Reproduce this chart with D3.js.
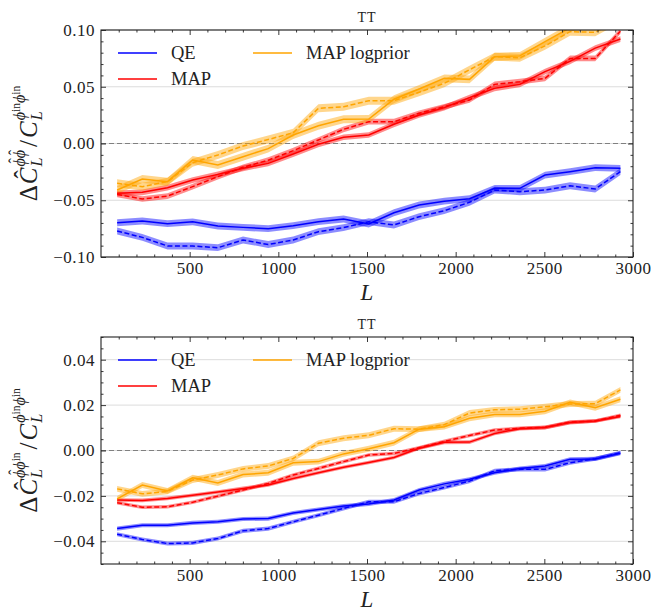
<!DOCTYPE html>
<html><head><meta charset="utf-8">
<script src="https://cdn.jsdelivr.net/npm/d3@7"></script>
<style>body{margin:0;background:#fff}svg{display:block}</style>
</head><body><svg id="c" width="653" height="612"></svg>
<script>
// ---- data ----
const Lbins = [91, 233, 375, 517, 659, 801, 943, 1084, 1226, 1368, 1510, 1652, 1794, 1936, 2078, 2220, 2362, 2504, 2645, 2787, 2929];
const methods = ["QE", "MAP", "MAP logprior"];
const colors = ["#0000ff", "#ff0000", "#ffa500"];

const topQE      = [-0.0698,-0.0683,-0.0706,-0.0690,-0.0727,-0.0739,-0.0750,-0.0724,-0.0689,-0.0665,-0.0709,-0.0610,-0.0542,-0.0508,-0.0486,-0.0395,-0.0395,-0.0278,-0.0248,-0.0213,-0.0219];
const topQEdash  = [-0.0771,-0.0827,-0.0903,-0.0903,-0.0918,-0.0850,-0.0890,-0.0850,-0.0777,-0.0741,-0.0689,-0.0718,-0.0645,-0.0592,-0.0518,-0.0410,-0.0425,-0.0410,-0.0372,-0.0401,-0.0248];
const topMAP     = [-0.0439,-0.0430,-0.0389,-0.0322,-0.0272,-0.0219,-0.0175,-0.0093,-0.0007,0.0055,0.0075,0.0169,0.0251,0.0316,0.0404,0.0486,0.0521,0.0633,0.0724,0.0840,0.0920];
const topMAPdash = [-0.0448,-0.0489,-0.0463,-0.0380,-0.0292,-0.0210,-0.0147,-0.0063,0.0031,0.0125,0.0192,0.0192,0.0266,0.0324,0.0383,0.0521,0.0545,0.0574,0.0750,0.0750,0.0990];
const topLog     = [-0.0410,-0.0313,-0.0336,-0.0145,-0.0190,-0.0116,-0.0045,0.0075,0.0157,0.0213,0.0216,0.0390,0.0480,0.0574,0.0565,0.0765,0.0772,0.0897,0.1020,0.1080,0.1150];
const topLogdash = [-0.0350,-0.0380,-0.0336,-0.0169,-0.0101,-0.0022,0.0035,0.0095,0.0310,0.0324,0.0377,0.0377,0.0452,0.0530,0.0650,0.0765,0.0755,0.0860,0.0985,0.0980,0.1100];

const botQE      = [-0.0344,-0.0329,-0.0329,-0.0319,-0.0314,-0.0302,-0.0300,-0.0275,-0.0260,-0.0245,-0.0236,-0.0218,-0.0174,-0.0147,-0.0127,-0.0098,-0.0079,-0.0068,-0.0039,-0.0037,-0.0012];
const botQEdash  = [-0.0369,-0.0392,-0.0410,-0.0407,-0.0388,-0.0354,-0.0344,-0.0314,-0.0285,-0.0255,-0.0226,-0.0226,-0.0189,-0.0163,-0.0135,-0.0089,-0.0083,-0.0083,-0.0054,-0.0036,-0.0010];
const botMAP     = [-0.0218,-0.0220,-0.0211,-0.0197,-0.0183,-0.0167,-0.0152,-0.0123,-0.0098,-0.0074,-0.0053,-0.0031,0.0010,0.0036,0.0037,0.0075,0.0096,0.0101,0.0123,0.0130,0.0150];
const botMAPdash = [-0.0230,-0.0250,-0.0248,-0.0228,-0.0201,-0.0174,-0.0145,-0.0108,-0.0079,-0.0049,-0.0020,-0.0013,0.0012,0.0040,0.0066,0.0090,0.0098,0.0102,0.0125,0.0130,0.0155];
const botLog     = [-0.0213,-0.0152,-0.0178,-0.0120,-0.0143,-0.0106,-0.0098,-0.0054,-0.0049,-0.0015,0.0008,0.0034,0.0094,0.0105,0.0142,0.0159,0.0159,0.0173,0.0212,0.0188,0.0226];
const botLogdash = [-0.0169,-0.0191,-0.0180,-0.0130,-0.0108,-0.0081,-0.0068,-0.0035,0.0032,0.0054,0.0067,0.0096,0.0094,0.0114,0.0165,0.0179,0.0182,0.0193,0.0205,0.0206,0.0267];

const topBand = [0.0030, 0.0025, 0.0035];
const botBand = [0.0009, 0.0008, 0.0013];

const xTicks = [500, 1000, 1500, 2000, 2500, 3000];
const topYTicks = [-0.10, -0.05, 0.00, 0.05, 0.10];
const botYTicks = [-0.04, -0.02, 0.00, 0.02, 0.04];
const panelTitle = "TT";

// ---- drawing ----
const svg = d3.select("#c");
const FONT = "'Liberation Serif', 'Times New Roman', serif";
const fmt = d => (d < 0 ? "\u2212" : "") + Math.abs(d).toFixed(2);

function drawPanel(cfg) {
  const {top, bottom, ydom, yTicks, yMinorStep, series, band, labelKind, id} = cfg;
  const left = 101, right = 633;
  const x = d3.scaleLinear().domain([0, 3000]).range([left, right]);
  const y = d3.scaleLinear().domain(ydom).range([bottom, top]);
  const g = svg.append("g");

  g.append("clipPath").attr("id", "clip" + id).append("rect")
    .attr("x", left).attr("y", top).attr("width", right - left).attr("height", bottom - top);

  // grid
  g.append("g").selectAll("line").data(yTicks).join("line")
    .attr("x1", left).attr("x2", right).attr("y1", d => y(d)).attr("y2", d => y(d))
    .attr("stroke", "#dcdcdc").attr("stroke-width", 1);
  // zero line
  g.append("line").attr("x1", left).attr("x2", right).attr("y1", y(0)).attr("y2", y(0))
    .attr("stroke", "#808080").attr("stroke-width", 1).attr("stroke-dasharray", "5,3");

  const plot = g.append("g").attr("clip-path", `url(#clip${id})`);
  series.forEach((pair, i) => {
    pair.forEach((vals, j) => {
      const area = d3.area().x((d, k) => x(Lbins[k])).y0(d => y(d - band[i])).y1(d => y(d + band[i]));
      plot.append("path").attr("d", area(vals)).attr("fill", colors[i]).attr("fill-opacity", 0.45).attr("stroke", "none");
    });
  });
  series.forEach((pair, i) => {
    pair.forEach((vals, j) => {
      const line = d3.line().x((d, k) => x(Lbins[k])).y(d => y(d));
      plot.append("path").attr("d", line(vals)).attr("fill", "none").attr("stroke", colors[i])
        .attr("stroke-width", 1.5).attr("stroke-dasharray", j === 1 ? "5,2.5" : null);
    });
  });

  // axes (inward ticks)
  const xMinor = d3.range(100, 3000, 100).filter(v => v % 500 !== 0);
  const yMinor = d3.range(ydom[0], ydom[1] + 1e-9, yMinorStep).filter(v => !yTicks.some(t => Math.abs(t - v) < 1e-9));
  const axB = g.append("g").attr("transform", `translate(0,${bottom})`)
    .call(d3.axisBottom(x).tickValues(xTicks).tickSize(-5).tickPadding(5).tickFormat(d3.format("d")));
  const axBm = g.append("g").attr("transform", `translate(0,${bottom})`)
    .call(d3.axisBottom(x).tickValues(xMinor).tickSize(-2.5).tickFormat(""));
  const axT = g.append("g").attr("transform", `translate(0,${top})`)
    .call(d3.axisTop(x).tickValues(xTicks).tickSize(-5).tickFormat(""));
  const axTm = g.append("g").attr("transform", `translate(0,${top})`)
    .call(d3.axisTop(x).tickValues(xMinor).tickSize(-2.5).tickFormat(""));
  const axL = g.append("g").attr("transform", `translate(${left},0)`)
    .call(d3.axisLeft(y).tickValues(yTicks).tickSize(-5).tickPadding(6).tickFormat(fmt));
  const axLm = g.append("g").attr("transform", `translate(${left},0)`)
    .call(d3.axisLeft(y).tickValues(yMinor).tickSize(-2.5).tickFormat(""));
  const axR = g.append("g").attr("transform", `translate(${right},0)`)
    .call(d3.axisRight(y).tickValues(yTicks).tickSize(-5).tickFormat(""));
  const axRm = g.append("g").attr("transform", `translate(${right},0)`)
    .call(d3.axisRight(y).tickValues(yMinor).tickSize(-2.5).tickFormat(""));
  [axB, axBm, axT, axTm, axL, axLm, axR, axRm].forEach(a => {
    a.select(".domain").remove();
    a.selectAll(".tick line").attr("stroke", "#222").attr("stroke-width", 0.9);
    a.selectAll("text").attr("font-family", FONT).attr("font-size", 17).attr("fill", "#222").attr("letter-spacing", 0.5);
  });
  // frame
  g.append("rect").attr("x", left).attr("y", top).attr("width", right - left).attr("height", bottom - top)
    .attr("fill", "none").attr("stroke", "#222").attr("stroke-width", 1.1);

  // title
  g.append("text").attr("x", (left + right) / 2).attr("y", top - 8).attr("text-anchor", "middle")
    .attr("font-family", FONT).attr("font-size", 14).attr("letter-spacing", 1).attr("fill", "#222").text(panelTitle);
  // x label
  g.append("text").attr("x", (left + right) / 2).attr("y", bottom + 43).attr("text-anchor", "middle")
    .attr("font-family", FONT).attr("font-size", 23).attr("font-style", "italic").attr("fill", "#222").text("L");

  // legend
  const leg = [[118, top + 23, 0], [118, top + 49, 1], [253, top + 23, 2]];
  leg.forEach(([lx, ly, i]) => {
    g.append("line").attr("x1", lx).attr("x2", lx + 39).attr("y1", ly).attr("y2", ly)
      .attr("stroke", colors[i]).attr("stroke-width", 1.5);
    g.append("text").attr("x", lx + 53).attr("y", ly + 6).attr("font-family", FONT).attr("font-size", 18.5)
      .attr("fill", "#222").text(methods[i]);
  });

  // y label
  yLabel(g, 37, (top + bottom) / 2, labelKind);
}

function yLabel(g, bx, cy, kind) {
  const lg = g.append("g").attr("transform", `translate(${bx},${cy}) rotate(-90)`);
  const big = 25, small = 16, tiny = 11.5;
  const phi = "\u03D5";
  const items = [];
  function put(t, size, dy, italic, xpos, anchor) {
    const el = lg.append("text").attr("x", xpos).attr("y", dy).attr("font-family", FONT)
      .attr("font-size", size).attr("font-style", italic ? "italic" : "normal").attr("fill", "#222")
      .attr("text-anchor", anchor || "start").text(t);
    items.push(el);
    return el.node().getComputedTextLength();
  }
  // parts: [text, size, italic, extraDy, hat]
  function seq(parts, start, baseDy) {
    let xx = start;
    parts.forEach(p => {
      const w = put(p[0], p[1], baseDy + (p[3] || 0), p[2], xx);
      if (p[4]) put("\u02C6", p[1], baseDy - p[1] * 0.32, false, xx + w / 2 + 1.5, "middle");
      xx += w;
    });
    return xx - start;
  }
  let cx = 0;
  cx += put("\u0394", big, 0, false, cx) + 1;
  cx += put("C", big, 0, true, cx);
  put("\u02C6", big, -big * 0.22, false, cx - 7, "middle");
  cx += 1;
  let supParts;
  if (kind === "top") supParts = [[phi, small, true, 0, true], [phi, small, true, 0, true]];
  else supParts = [[phi, small, true, 0, true], [phi, small, true], ["in", tiny, false, -5]];
  const w1 = seq(supParts, cx, -12);
  const w2 = seq([["L", small, true]], cx, 5);
  cx += Math.max(w1, w2) + 3;
  cx += put("/", big, 0, false, cx) + 2;
  cx += put("C", big, 0, true, cx) + 1;
  const w3 = seq([[phi, small, true], ["in", tiny, false, -5], [phi, small, true], ["in", tiny, false, -5]], cx, -12);
  const w4 = seq([["L", small, true]], cx, 5);
  cx += Math.max(w3, w4);
  const shift = -cx / 2;
  items.forEach(el => el.attr("x", +el.attr("x") + shift));
}

drawPanel({id: "a", top: 30, bottom: 257, ydom: [-0.1, 0.1], yTicks: topYTicks, yMinorStep: 0.01,
  series: [[topQE, topQEdash], [topMAP, topMAPdash], [topLog, topLogdash]], band: topBand, labelKind: "top"});
drawPanel({id: "b", top: 337, bottom: 564, ydom: [-0.05, 0.05], yTicks: botYTicks, yMinorStep: 0.005,
  series: [[botQE, botQEdash], [botMAP, botMAPdash], [botLog, botLogdash]], band: botBand, labelKind: "bot"});
</script></body></html>
